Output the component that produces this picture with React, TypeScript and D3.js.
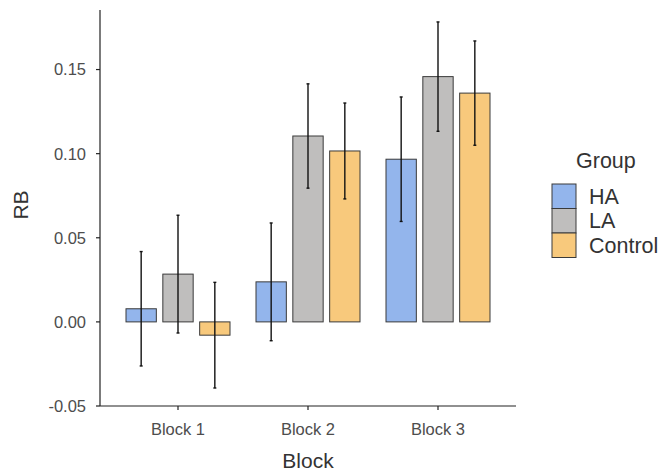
import React from "react";
import * as d3 from "d3";

const blocks = ["Block 1", "Block 2", "Block 3"];
const groups = ["HA", "LA", "Control"];
const groupColors = ["#93b5ec", "#bfbebd", "#f8c97c"];
// means per group, indexed by block
const meanHA = [0.0078, 0.0238, 0.0967];
const meanLA = [0.0284, 0.1105, 0.1458];
const meanControl = [-0.0079, 0.1016, 0.136];
const seHA = [0.034, 0.035, 0.037];
const seLA = [0.035, 0.031, 0.0325];
const seControl = [0.0314, 0.0285, 0.031];
const yTicks = [-0.05, 0, 0.05, 0.1, 0.15];

const W = 666;
const H = 474;
const left = 100;
const right = 516;
const top = 10;
const bottom = 406;

export default function App() {
  const means = [meanHA, meanLA, meanControl];
  const ses = [seHA, seLA, seControl];
  const y = d3.scaleLinear().domain([-0.05, 0.1854]).range([bottom, top]);
  // ggplot-like discrete axis: positions 1..3, limits 0.4..3.6
  const xc = d3.scaleLinear().domain([0.4, 3.6]).range([left, right]);
  const dodge = 0.85;
  const barW = 0.7 / 3;
  const font = "'Liberation Sans', Arial, sans-serif";
  const fmt = (t: number) => d3.format(".2f")(t).replace("\u2212", "-");

  const bars: React.ReactNode[] = [];
  const errs: React.ReactNode[] = [];
  blocks.forEach((b, bi) => {
    groups.forEach((g, gi) => {
      const center = bi + 1 + (gi - 1) * (dodge / 3);
      const x0 = xc(center - barW / 2);
      const x1 = xc(center + barW / 2);
      const v = means[gi][bi];
      const s = ses[gi][bi];
      bars.push(
        <rect
          key={`b-${bi}-${gi}`}
          x={x0}
          width={x1 - x0}
          y={Math.min(y(v), y(0))}
          height={Math.abs(y(v) - y(0))}
          fill={groupColors[gi]}
          stroke="#3a3a3a"
          strokeWidth={1}
        />
      );
      const cx = xc(center);
      errs.push(
        <g key={`e-${bi}-${gi}`} stroke="#111" strokeWidth={1.4}>
          <line x1={cx} x2={cx} y1={y(v - s)} y2={y(v + s)} />
          <line x1={cx - 1.5} x2={cx + 1.5} y1={y(v - s)} y2={y(v - s)} />
          <line x1={cx - 1.5} x2={cx + 1.5} y1={y(v + s)} y2={y(v + s)} />
        </g>
      );
    });
  });

  return (
    <svg
      width={W}
      height={H}
      style={{ position: "absolute", left: 0, top: 0, background: "#fff" }}
      fontFamily={font}
    >
      <rect width={W} height={H} fill="#fff" />
      {bars}
      {errs}
      {/* axes */}
      <line x1={left} x2={left} y1={top} y2={bottom} stroke="#222" strokeWidth={1.2} />
      <line x1={left} x2={right} y1={bottom} y2={bottom} stroke="#222" strokeWidth={1.2} />
      {yTicks.map((t) => (
        <g key={`yt-${t}`}>
          <line x1={left - 4} x2={left} y1={y(t)} y2={y(t)} stroke="#222" strokeWidth={1.2} />
          <text
            x={left - 14}
            y={y(t)}
            dy="0.36em"
            textAnchor="end"
            fontSize={16.5}
            fill="#4d4d4d"
          >
            {fmt(t)}
          </text>
        </g>
      ))}
      {blocks.map((b, bi) => (
        <g key={`xt-${b}`}>
          <line x1={xc(bi + 1)} x2={xc(bi + 1)} y1={bottom} y2={bottom + 4} stroke="#222" strokeWidth={1.2} />
          <text x={xc(bi + 1)} y={435} textAnchor="middle" fontSize={16.5} fill="#4d4d4d">
            {b}
          </text>
        </g>
      ))}
      <text x={(left + right) / 2} y={468} textAnchor="middle" fontSize={21} fill="#333">
        Block
      </text>
      <text
        transform={`translate(28, 205) rotate(-90)`}
        textAnchor="middle"
        fontSize={21}
        fill="#333"
      >
        RB
      </text>
      {/* legend */}
      <text x={576} y={168} fontSize={21.5} fill="#333">
        Group
      </text>
      {groups.map((g, gi) => (
        <g key={`lg-${g}`}>
          <rect
            x={552}
            y={184 + gi * 24.5}
            width={24}
            height={24.5}
            fill={groupColors[gi]}
            stroke="#3a3a3a"
            strokeWidth={1}
          />
          <text x={589} y={184 + gi * 24.5 + 12.25} dy="0.36em" fontSize={21.5} fill="#333">
            {g}
          </text>
        </g>
      ))}
    </svg>
  );
}
